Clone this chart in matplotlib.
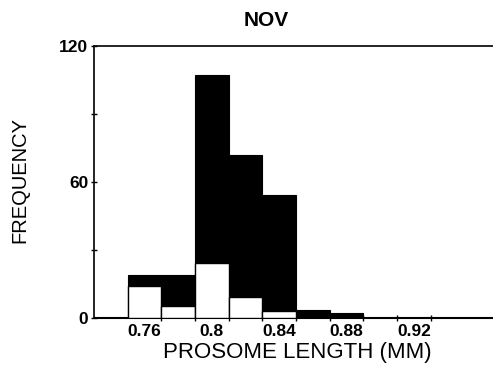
import matplotlib
matplotlib.use("Agg")
import matplotlib.pyplot as plt
import numpy as np

plt.rcParams['font.family'] = ['Liberation Sans', 'DejaVu Sans']

# Data
bin_centers = [0.76, 0.78, 0.80, 0.82, 0.84, 0.86, 0.88]
total_freq = [19, 19, 107, 72, 54, 3.5, 2]
subset_freq = [14, 5, 24, 9, 3, 0, 0]
x_tick_values = [0.76, 0.80, 0.84, 0.88, 0.92]
x_tick_labels = ["0.76", "0.8", "0.84", "0.88", "0.92"]
y_tick_values = [0, 60, 120]
y_tick_labels = ["0", "60", "120"]
bin_width = 0.02

fig = plt.figure(figsize=(4.93, 3.72), dpi=100)
ax = fig.add_axes([0.1907, 0.1465, 0.8093, 0.7298])

ax.bar(bin_centers, total_freq, width=bin_width, color='black',
       edgecolor='black', linewidth=0.8, zorder=2)
ax.bar(bin_centers, subset_freq, width=bin_width, color='white',
       edgecolor='black', linewidth=1.0, zorder=3)

ax.set_xlim(0.73, 0.967)
ax.set_ylim(0, 120)

ax.set_xticks(x_tick_values)
ax.set_xticklabels(x_tick_labels, fontsize=12.5, fontweight='bold')
edges = np.arange(0.77, 0.95, 0.02)
ax.set_xticks(edges, minor=True)
ax.tick_params(axis='x', which='major', length=0, pad=5)
ax.tick_params(axis='x', which='minor', length=4, width=1, direction='inout')

ax.set_yticks(y_tick_values)
ax.set_yticklabels(y_tick_labels, fontsize=12.5, fontweight='bold')
ax.set_yticks([30, 90], minor=True)
ax.tick_params(axis='y', which='both', length=4, width=1, direction='inout', pad=2)

for s in ['left', 'top', 'bottom']:
    ax.spines[s].set_linewidth(1.2)
ax.spines['bottom'].set_linewidth(1.5)
ax.spines['right'].set_visible(False)

fig.text(266 / 493, 1 - 20 / 372, "NOV", fontsize=15, fontweight='bold',
         ha='center', va='center')
fig.text(297 / 493, 1 - 358 / 372, "PROSOME LENGTH (MM)", fontsize=16,
         ha='center', va='baseline')
fig.text(20 / 493, 1 - 180 / 372, "FREQUENCY", fontsize=14.5, rotation=90,
         ha='center', va='center')

fig.savefig("out.png", dpi=100)
